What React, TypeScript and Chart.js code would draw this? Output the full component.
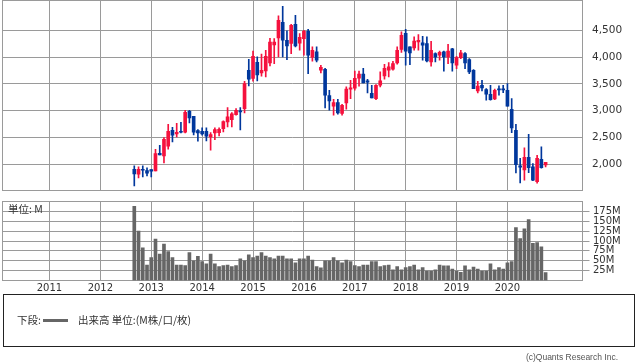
import React, { useEffect, useRef } from "react";
import { Chart, registerables } from "chart.js";

Chart.register(...registerables);

// ---- Data (monthly candles, Sep 2012 – Oct 2020) ----
const BASE_YEAR = 2010;
const FIRST_YEAR = 2012;
const FIRST_MONTH = 9;

const opens = [
  1907, 1813, 1900, 1882, 1900, 1876, 2205, 2155, 2336, 2634, 2566, 2616, 2597, 2989, 2896, 2628,
  2616, 2616, 2510, 2585, 2591, 2665, 2790, 2833, 2927, 2989, 3039, 3754,
  3599, 3903, 3704, 3742, 3891, 4227, 4357, 4650, 4314, 4252, 4612, 4258,
  4345, 4482, 3996, 4096, 3754, 3773, 3281, 3082, 3151, 2946, 3145, 3400,
  3418, 3605, 3680, 3555, 3325, 3225, 3474, 3648, 3754, 3773, 3891, 4140,
  4444, 4189, 4171, 4283, 4264, 4252, 3910, 4065, 4034, 4096, 4003, 4152,
  3847, 3990, 4065, 3953, 3754, 3368, 3474, 3393, 3306, 3219, 3400, 3400,
  3381, 3026, 2634, 1969, 1894, 2131, 1950, 1677, 2093, 1988,
];
const highs = [
  1969, 1950, 1969, 1932, 1900, 2280, 2355, 2498, 2746, 2690, 2765, 2784, 3008, 3008, 2896, 2647,
  2678, 2678, 2591, 2678, 2680, 2808, 3057, 2964, 3039, 3057, 3549, 3959,
  4109, 4003, 4053, 4127, 4351, 4345, 4768, 4948, 4488, 4612, 4780, 4438,
  4500, 4519, 4189, 4189, 3847, 3791, 3381, 3213, 3213, 3120, 3443, 3567,
  3736, 3736, 3791, 3586, 3474, 3487, 3723, 3866, 3897, 3922, 4189, 4469,
  4519, 4189, 4376, 4420, 4388, 4376, 4295, 4078, 4109, 4109, 4239, 4164,
  4015, 4127, 4084, 3972, 3766, 3549, 3567, 3412, 3474, 3400, 3462, 3474,
  3505, 3225, 2746, 2112, 2305, 2560, 2012, 2168, 2323, 2037,
];
const lows = [
  1596, 1745, 1764, 1782, 1764, 1876, 2174, 2025, 2280, 2417, 2510, 2585, 2585, 2771, 2547, 2429,
  2541, 2435, 2261, 2460, 2530, 2603, 2697, 2697, 2915, 2641, 2958, 3462,
  3549, 3555, 3642, 3630, 3835, 3878, 4003, 4003, 3953, 4065, 4190, 4127,
  4034, 3692, 3922, 3909, 3704, 3051, 3008, 2914, 2933, 2914, 3026, 3225,
  3381, 3456, 3518, 3331, 3238, 3207, 3443, 3586, 3630, 3754, 3866, 4084,
  3847, 3860, 4127, 4127, 3941, 3910, 3829, 3910, 3941, 3736, 3878, 3736,
  3785, 3972, 3785, 3692, 3412, 3331, 3368, 3194, 3194, 3207, 3288, 3337,
  3082, 2591, 1838, 1652, 1701, 1845, 1695, 1645, 1925, 1950,
];
const closes = [
  1820, 1907, 1888, 1832, 1870, 2199, 2174, 2466, 2616, 2541, 2597, 2597, 2970, 2865, 2597, 2585,
  2566, 2522, 2554, 2647, 2653, 2796, 2883, 2939, 3008, 2977, 3505, 3586,
  4015, 3667, 3754, 4015, 4277, 4277, 4687, 4314, 4208, 4594, 4208, 4370,
  4482, 4034, 4127, 3941, 3810, 3288, 3182, 3151, 2958, 3101, 3400, 3425,
  3605, 3680, 3518, 3530, 3238, 3474, 3555, 3791, 3816, 3878, 4127, 4407,
  4109, 4078, 4296, 4314, 4221, 3928, 4127, 4003, 4090, 4003, 4109, 3891,
  3990, 4078, 3891, 3723, 3412, 3456, 3424, 3306, 3207, 3381, 3387, 3387,
  3082, 2678, 1994, 1944, 2131, 1938, 1701, 2112, 1938, 2037,
];
// volume in millions
const volumes = [
  188, 125, 83, 39, 58, 105, 67, 92, 73, 58, 39, 39, 38, 71, 50, 61,
  48, 42, 67, 42, 35, 38, 39, 35, 38, 55, 50, 65,
  58, 62, 71, 62, 58, 55, 62, 62, 55, 55, 45, 55,
  55, 62, 52, 35, 32, 50, 50, 58, 50, 45, 52, 48,
  38, 35, 39, 39, 48, 48, 35, 38, 39, 27, 35, 27,
  33, 35, 39, 27, 33, 24, 24, 27, 39, 37, 37, 29,
  24, 21, 37, 27, 34, 29, 24, 24, 42, 27, 33, 29,
  45, 48, 134, 106, 131, 154, 94, 96, 85, 20,
];

const yearTicks = [2011, 2012, 2013, 2014, 2015, 2016, 2017, 2018, 2019, 2020];
const priceTicks = [2000, 2500, 3000, 3500, 4000, 4500];
const volumeTicks = [25, 50, 75, 100, 125, 150, 175];

// ---- Axis ranges ----
const X_MIN = 0.92; // months after Jan 2010
const X_MAX = 137.7;
const PRICE_MIN = 1510;
const PRICE_MAX = 5055;
const VOL_MIN = 0;
const VOL_MAX = 200;

// ---- Style ----
const UP = "#F5113D";
const DOWN = "#00379C";
const VOL_COLOR = "#666666";
const GRID = "#9a9a9a";
const TEXT = "#333333";
const TICK_FONT = { family: "'DejaVu Sans', Verdana, sans-serif", size: 10 };
const CJK_FONT = "'Noto Sans CJK JP', 'DejaVu Sans', sans-serif";

const W = 638;
const AXIS_W = 55.5;

const boxPlugin = {
  id: "box",
  beforeDatasetsDraw(chart: any) {
    const { ctx, chartArea: a } = chart;
    ctx.save();
    ctx.strokeStyle = GRID;
    ctx.lineWidth = 1;
    ctx.strokeRect(a.left, a.top, a.right - a.left, a.bottom - a.top);
    ctx.restore();
  },
};

const unitPlugin = {
  id: "unitLabel",
  afterDatasetsDraw(chart: any) {
    const { ctx, chartArea: a } = chart;
    ctx.save();
    ctx.fillStyle = TEXT;
    ctx.font = `10.5px ${CJK_FONT}`;
    ctx.textBaseline = "middle";
    ctx.textAlign = "left";
    ctx.fillText("単位: M", a.left + 5.5, a.top + 7.5);
    ctx.restore();
  },
};

function noPad(s: any) {
  s.paddingTop = 0;
  s.paddingBottom = 0;
  s.paddingLeft = 0;
  s.paddingRight = 0;
}

function xScale(showLabels: boolean, height: number) {
  return {
    type: "linear" as const,
    min: X_MIN,
    max: X_MAX,
    offset: false,
    afterBuildTicks: (s: any) => {
      s.ticks = yearTicks.map((y) => ({ value: (y - BASE_YEAR) * 12 }));
    },
    afterFit: (s: any) => {
      s.height = height;
      noPad(s);
    },
    grid: { color: GRID, lineWidth: 1, drawTicks: false, offset: false },
    border: { display: false },
    ticks: {
      display: showLabels,
      color: TEXT,
      font: TICK_FONT,
      padding: 1.5,
      maxRotation: 0,
      autoSkip: false,
      callback: (v: any) => String(BASE_YEAR + Number(v) / 12),
    },
  };
}

export default function App() {
  const priceRef = useRef<HTMLCanvasElement>(null);
  const volRef = useRef<HTMLCanvasElement>(null);

  useEffect(() => {
    const xs = opens.map((_, i) => (FIRST_YEAR - BASE_YEAR) * 12 + (FIRST_MONTH - 1) + i);
    const colors = opens.map((o, i) => (closes[i] >= o ? UP : DOWN));

    const priceChart = new Chart(priceRef.current as HTMLCanvasElement, {
      type: "bar",
      data: {
        datasets: [
          {
            label: "body",
            data: xs.map((x, i) => ({ x, y: [opens[i], closes[i]] })) as any,
            backgroundColor: colors,
            borderWidth: 0,
            barThickness: 3,
            minBarLength: 1,
            grouped: false,
            order: 0,
          },
          {
            label: "wick",
            data: xs.map((x, i) => ({ x, y: [lows[i], highs[i]] })) as any,
            backgroundColor: colors,
            borderWidth: 0,
            barThickness: 1,
            grouped: false,
            order: 1,
          },
        ],
      },
      options: {
        animation: false,
        responsive: false,
        devicePixelRatio: 1,
        events: [],
        layout: { autoPadding: false, padding: { left: 2.5, right: 0, top: 0.5, bottom: 5.5 } },
        plugins: { legend: { display: false }, tooltip: { enabled: false } },
        scales: {
          x: xScale(false, 0) as any,
          y: {
            type: "linear",
            position: "right",
            min: PRICE_MIN,
            max: PRICE_MAX,
            afterBuildTicks: (s: any) => {
              s.ticks = priceTicks.map((v) => ({ value: v }));
            },
            afterFit: (s: any) => {
              s.width = AXIS_W;
              noPad(s);
            },
            grid: { color: GRID, lineWidth: 1, drawTicks: false },
            border: { display: false },
            ticks: {
              color: TEXT,
              font: { ...TICK_FONT, size: 10.5 },
              padding: 9.5,
              autoSkip: false,
              callback: (v: any) => Number(v).toLocaleString("en-US"),
            },
          } as any,
        },
      },
      plugins: [boxPlugin],
    });

    const volChart = new Chart(volRef.current as HTMLCanvasElement, {
      type: "bar",
      data: {
        datasets: [
          {
            label: "出来高",
            data: xs.map((x, i) => ({ x, y: volumes[i] })) as any,
            backgroundColor: VOL_COLOR,
            borderWidth: 0,
            barThickness: 3,
          },
        ],
      },
      options: {
        animation: false,
        responsive: false,
        devicePixelRatio: 1,
        events: [],
        layout: { autoPadding: false, padding: { left: 2.5, right: 0, top: 5.5, bottom: 0 } },
        plugins: { legend: { display: false }, tooltip: { enabled: false } },
        scales: {
          x: xScale(true, 15.5) as any,
          y: {
            type: "linear",
            position: "right",
            min: VOL_MIN,
            max: VOL_MAX,
            afterBuildTicks: (s: any) => {
              s.ticks = volumeTicks.map((v) => ({ value: v }));
            },
            afterFit: (s: any) => {
              s.width = AXIS_W;
              noPad(s);
            },
            grid: { color: GRID, lineWidth: 1, drawTicks: true, tickLength: 7 },
            border: { display: false },
            ticks: {
              color: TEXT,
              font: TICK_FONT,
              padding: 3.5,
              autoSkip: false,
              callback: (v: any) => `${v}M`,
            },
          } as any,
        },
      },
      plugins: [boxPlugin, unitPlugin],
    });

    return () => {
      priceChart.destroy();
      volChart.destroy();
    };
  }, []);

  return (
    <div
      style={{
        position: "fixed",
        left: 0,
        top: 0,
        width: W,
        height: 362,
        background: "#fff",
        overflow: "hidden",
      }}
    >
      <canvas
        ref={priceRef}
        width={W}
        height={196}
        style={{ position: "absolute", left: 0, top: 0, width: W, height: 196 }}
      />
      <canvas
        ref={volRef}
        width={W}
        height={100}
        style={{ position: "absolute", left: 0, top: 196, width: W, height: 100 }}
      />
      <div
        style={{
          position: "absolute",
          left: 3,
          top: 294,
          width: 632,
          height: 53,
          border: "1px solid #222",
          boxSizing: "border-box",
          fontFamily: CJK_FONT,
          fontSize: 10.5,
          color: TEXT,
        }}
      >
        <span style={{ position: "absolute", left: 13, top: 18, lineHeight: "14px", whiteSpace: "nowrap" }}>
          下段:
        </span>
        <span
          style={{ position: "absolute", left: 39, top: 23.5, width: 25, height: 3, background: VOL_COLOR }}
        />
        <span style={{ position: "absolute", left: 74, top: 18, lineHeight: "14px", whiteSpace: "nowrap" }}>
          出来高 単位:(M株/口/枚)
        </span>
      </div>
      <span
        style={{
          position: "absolute",
          right: 20,
          top: 351,
          fontFamily: "'Liberation Sans', Arial, sans-serif",
          fontSize: 8.5,
          lineHeight: "12px",
          color: "#555",
          whiteSpace: "nowrap",
        }}
      >
        (c)Quants Research Inc.
      </span>
    </div>
  );
}
